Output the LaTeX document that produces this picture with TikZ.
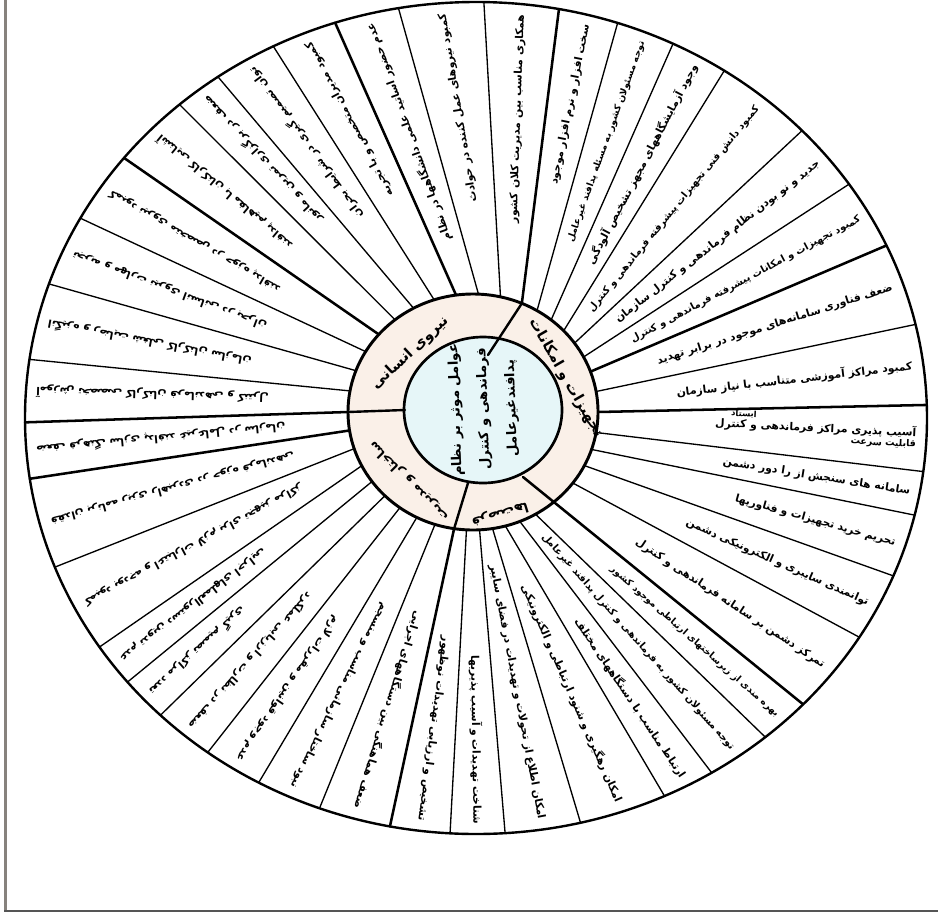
\documentclass[tikz,border=0pt]{standalone}
\usepackage{fontspec}
\usetikzlibrary{calc}
\newfontfamily\fa[Script=Arabic]{DejaVu Sans}
\TeXXeTstate=1
\definecolor{ringfill}{RGB}{250,240,232}
\definecolor{corefill}{RGB}{230,246,248}
\definecolor{frameleft}{RGB}{135,130,125}
\definecolor{framebot}{RGB}{85,85,85}
\tikzset{
  sp/.style={line width=1pt},
  spk/.style={line width=1.9pt},
  lbl/.style={font=\fa\bfseries\fontsize{8.1}{9}\selectfont, inner sep=0.5pt, anchor=east},
  small/.style={font=\fa\bfseries\fontsize{7.4}{8.5}\selectfont},
  smaller/.style={font=\fa\bfseries\fontsize{7}{8}\selectfont},
  ringlbl/.style={font=\fa\bfseries\fontsize{11}{12}\selectfont, inner sep=1pt},
  corelbl/.style={font=\fa\bfseries\fontsize{10}{21}\selectfont, inner sep=1pt, align=center},
}
% wedge label: [options] name, spoke a, spoke b, text
\newcommand\wlab[5][]{\path let \p1=($(o#3)!0.5!(o#4)$), \p2=($(q#3)!0.5!(q#4)$),
  \n1={atan2(\y1-\y2,\x1-\x2)} in node[lbl,rotate=\n1,#1] (#2) at ($(\p1)!6pt!(\p2)$) {#5};}
\begin{document}
\begin{tikzpicture}[x=0.75pt,y=0.75pt,line join=round,line cap=round]
\useasboundingbox (0,0) rectangle (938,-914);
\fill[white] (0,0) rectangle (938,-914);
\coordinate (C) at (476,-418);
\coordinate (R) at (473,-412);
\coordinate (I) at (483,-410);
% frame
\draw[frameleft, line width=2.2pt, line cap=butt] (5.5,0) -- (5.5,-911);
\draw[framebot, line width=2.2pt, line cap=butt] (4,-911) -- (938,-911);
% outer ellipse
\draw[line width=1.8pt, fill=white] (C) ellipse [x radius=451, y radius=416];
% spoke end points
\foreach \n/\ao/\ai in {0/180.6/180,1/171.9/169.7,2/161.2/159.5,3/151.3/149.2,4/141.3/138.9,
  5/131.1/128.6,6/124.9/118.4,7/116.7/108.1,8/108.2/97.8,9/99.9/87.5,10/89.0/77.3,11/79.4/67,
  12/71.7/59.2,13/64.1/51.3,14/56.6/43.5,15/43.7/35.7,16/34.2/27.8,17/24.5/20,18/13.0/10,
  19/1.8/0,20/-7.4/-10,21/-13.5/-18.5,22/-22.3/-27,23/-31.8/-37,24/-43.5/-50,
  25/-50.1/-60,26/-58.5/-68,27/-65.3/-75,28/-76.6/-81,29/-86.3/-87,30/-93.3/-93,31/-101/-98.7,
  32/-110.3/-107.7,33/-118.8/-116.7,34/-126.5/-125.8,35/-134.4/-134.8,36/-140.6/-143.9,
  37/-146.6/-152.9,38/-159/-161.9,39/-171.6/-171}
{
  \coordinate (o\n) at ([shift={(C)}]\ao:451 and 416);
  \coordinate (q\n) at ([shift={(R)}]\ai:125 and 118);
}
% spokes (ends hidden under the ring)
\foreach \n/\w in {0/spk,1/sp,2/sp,3/sp,4/spk,5/sp,6/sp,7/sp,8/spk,9/sp,10/sp,11/spk,12/sp,13/sp,14/sp,
  15/sp,16/sp,17/spk,18/sp,19/spk,20/sp,21/sp,22/sp,23/sp,25/sp,26/sp,27/sp,28/sp,29/sp,30/sp,31/spk,
  32/sp,33/sp,34/sp,35/sp,36/sp,37/sp,38/sp,39/spk}
  \draw[\w] (o\n) -- (q\n);
% ring and core
\draw[line width=2.2pt, fill=ringfill] (R) ellipse [x radius=125, y radius=118];
\draw[line width=2pt, fill=corefill] (I) ellipse [x radius=79, y radius=73];
% ring dividers
\coordinate (t3) at (488,-355);
\coordinate (l3) at (405,-410);
\coordinate (b3) at (468,-483);
\coordinate (r2) at (523,-477);
\draw[line width=1.8pt] (q11) -- (t3);
\draw[line width=1.8pt] (q0) -- (l3);
\draw[line width=1.8pt] (q31) -- (b3);
\draw[spk] (r2) -- (o24);
% ring labels
\node[ringlbl, rotate=43] (g1) at (410,-353) {\beginR نیروی انسانی\endR};
\node[ringlbl, rotate=-60] (g2) at (566,-378) {\beginR تجهیزات و امکانات\endR};
\node[ringlbl, font=\fa\bfseries\fontsize{10}{11}\selectfont, rotate=197] (g3) at (500,-514) {\beginR فرصت‌ها\endR};
\node[ringlbl, font=\fa\bfseries\fontsize{9.5}{11}\selectfont, rotate=135] (g4) at (409,-481) {\beginR ساختار و مدیریت\endR};
% core
\node[corelbl, rotate=92] (core) at (484,-409) {\beginR عوامل موثر بر نظام\endR\\\beginR فرماندهی و کنترل\endR\\\beginR پدافندغیرعامل\endR};
% human resources
\wlab{w1}{0}{1}{\beginR آموزش تخصصی کارکنان فرماندهی و کنترل\endR}
\wlab{w2}{1}{2}{\beginR انگیزه و رضایت شغلی کارکنان سازمان\endR}
\wlab{w3}{2}{3}{\beginR تجربه و مهارت نیروی انسانی در بحران\endR}
\wlab{w4}{3}{4}{\beginR کمبود نیروی متخصص در حوزه پدافند\endR}
\wlab{w5}{4}{5}{\beginR آشنایی کارکنان با مفاهیم پدافند\endR}
\wlab{w6}{5}{6}{\beginR ضعف در برگزاری تمرین و مانور\endR}
\wlab{w7}{6}{7}{\beginR توان تصمیم گیری در شرایط بحران\endR}
\wlab{w8}{7}{8}{\beginR کمبود مدیران متخصص و با تجربه\endR}
\wlab{w9}{8}{9}{\beginR عدم حضور اساتید علمی دانشگاهها در نظام\endR}
\wlab{w10}{9}{10}{\beginR کمبود نیروهای عمل کننده در حوادث\endR}
\wlab{w11}{10}{11}{\beginR همکاری مناسب بین مدیریت کلان کشور\endR}
% equipment and facilities
\wlab{w12}{11}{12}{\beginR سخت افزار و نرم افزار موجود\endR}
\wlab[smaller]{w13}{12}{13}{\beginR توجه مسئولان کشور به مسئله پدافند غیرعامل\endR}
\wlab{w14}{13}{14}{\beginR وجود آزمایشگاههای مجهز تشخیص آلودگی\endR}
\wlab[small]{w15}{14}{15}{\beginR کمبود دانش فنی تجهیزات پیشرفته فرماندهی و کنترل\endR}
\wlab{w16}{15}{16}{\beginR جدید و نو بودن نظام فرماندهی و کنترل سازمان\endR}
\wlab[small]{w17}{16}{17}{\beginR کمبود تجهیزات و امکانات پیشرفته فرماندهی و کنترل\endR}
\wlab{w18}{17}{18}{\beginR ضعف فناوری سامانه‌های موجود در برابر تهدید\endR}
\wlab{w19}{18}{19}{\beginR کمبود مراکز آموزشی متناسب با نیاز سازمان\endR}
\wlab[align=right]{w20}{19}{20}{\beginR آسیب پذیری مراکز فرماندهی و کنترل\endR\\[-1pt]{\fontsize{7}{7.5}\selectfont\beginR قابلیت سرعت\endR}}
\node[font=\fa\bfseries\fontsize{6.3}{7}\selectfont, inner sep=0pt, rotate=-3] (w20b) at (744,-414) {\beginR ایستاد\endR};
\wlab{w21}{20}{21}{\beginR سامانه های سنجش از را دور دشمن\endR}
\wlab{w22}{21}{22}{\beginR تحریم خرید تجهیزات و فناوریها\endR}
\wlab{w23}{22}{23}{\beginR توانمندی سایبری و الکترونیکی دشمن\endR}
\wlab{w24}{23}{24}{\beginR تمرکز دشمن بر سامانه فرماندهی و کنترل\endR}
% opportunities
\wlab[smaller]{w25}{24}{25}{\beginR بهره مندی از زیرساختهای ارتباطی موجود کشور\endR}
\wlab[small]{w26}{25}{26}{\beginR توجه مسئولان کشور به فرماندهی و کنترل پدافند غیرعامل\endR}
\wlab{w27}{26}{27}{\beginR ارتباط مناسب با دستگاههای مختلف\endR}
\wlab{w28}{27}{28}{\beginR امکان رهگیری و شنود ارتباطی و الکترونیکی\endR}
\wlab{w29}{28}{29}{\beginR امکان اطلاع از تحولات و تهدیدات در فضای سایبر\endR}
\wlab{w30}{29}{30}{\beginR شناخت تهدیدات و آسیب پذیریها\endR}
\wlab{w31}{30}{31}{\beginR تشخیص و ارزیابی تهدیدات نوظهور\endR}
% structure and management
\wlab{w32}{31}{32}{\beginR ضعف هماهنگی بین دستگاههای اجرایی\endR}
\wlab{w33}{32}{33}{\beginR نبود ساختار سازمانی مناسب و منسجم\endR}
\wlab{w34}{33}{34}{\beginR عدم وجود قوانین و مقررات لازم\endR}
\wlab{w35}{34}{35}{\beginR ضعف در نظارت و ارزیابی عملکرد\endR}
\wlab{w36}{35}{36}{\beginR تعدد مراکز تصمیم گیری\endR}
\wlab{w37}{36}{37}{\beginR عدم تدوین دستورالعملهای اجرایی\endR}
\wlab{w38}{37}{38}{\beginR کمبود بودجه و اعتبارات لازم برای تجهیز مراکز\endR}
\wlab{w39}{38}{39}{\beginR فقدان برنامه ریزی راهبردی در حوزه فرماندهی\endR}
\wlab{w40}{39}{0}{\beginR ضعف فرهنگ سازی پدافند غیرعامل در سازمان\endR}
\end{tikzpicture}
\end{document}
